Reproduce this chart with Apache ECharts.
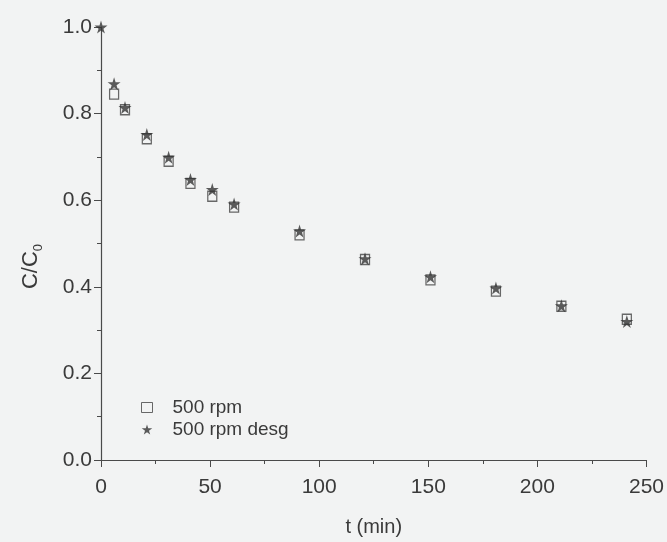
<!DOCTYPE html>
<html>
<head>
<meta charset="utf-8">
<script src="https://cdn.jsdelivr.net/npm/echarts@6/dist/echarts.min.js"></script>
<style>
html,body{margin:0;padding:0;background:#f2f3f3;}
#c{width:667px;height:542px;}
</style>
</head>
<body>
<div id="c"></div>
<script>
// Data
var timeSquare = [6, 11, 21, 31, 41, 51, 61, 91, 121, 151, 181, 211, 241];
var rpm500 = [0.845, 0.809, 0.742, 0.690, 0.639, 0.609, 0.584, 0.520, 0.463, 0.416, 0.390, 0.355, 0.325];
var timeStar = [0, 6, 11, 21, 31, 41, 51, 61, 91, 121, 151, 181, 211, 241];
var rpm500Desg = [1.0, 0.869, 0.814, 0.752, 0.699, 0.648, 0.625, 0.591, 0.529, 0.465, 0.423, 0.397, 0.356, 0.320];
var seriesNames = ['500 rpm', '500 rpm desg'];
var xTicks = [0, 50, 100, 150, 200, 250];
var yTicks = [0.0, 0.2, 0.4, 0.6, 0.8, 1.0];

var starPath = 'path://M50,0 L61,35 L98,35 L68,57 L79,91 L50,70 L21,91 L32,57 L2,35 L39,35 Z';
var axisColor = '#4a4a4a';
var textColor = '#3a3a3a';
var font = 'Liberation Sans, Arial, sans-serif';

function pairs(xs, ys) { return xs.map(function (x, i) { return [x, ys[i]]; }); }

var chart = echarts.init(document.getElementById('c'), null, {renderer: 'canvas'});
chart.setOption({
  backgroundColor: '#f2f3f3',
  animation: false,
  grid: {left: 101, right: 19, top: 27, bottom: 80, containLabel: false},
  legend: {
    orient: 'vertical',
    left: 136,
    top: 393,
    itemGap: 3,
    itemWidth: 11,
    itemHeight: 10,
    textStyle: {fontFamily: font, fontSize: 19, color: textColor, padding: [0, 0, 0, 15]},
    data: [
      {name: seriesNames[0], icon: 'rect', itemStyle: {color: 'transparent', borderColor: '#444', borderWidth: 1}},
      {name: seriesNames[1], icon: starPath, itemStyle: {color: '#333'}}
    ]
  },
  xAxis: {
    type: 'value', min: xTicks[0], max: xTicks[xTicks.length - 1], interval: 50,
    name: 't (min)', nameLocation: 'middle', nameGap: 57,
    nameTextStyle: {fontFamily: font, fontSize: 20, color: textColor},
    axisLine: {onZero: false, lineStyle: {color: axisColor, width: 1.2}},
    axisTick: {show: true, inside: false, length: 7, lineStyle: {color: axisColor}},
    minorTick: {show: true, splitNumber: 2, length: 4, lineStyle: {color: axisColor}},
    axisLabel: {fontFamily: font, fontSize: 21, color: textColor, margin: 17},
    splitLine: {show: false}
  },
  yAxis: {
    type: 'value', min: yTicks[0], max: yTicks[yTicks.length - 1], interval: 0.2,
    name: '{a|C/C}{b|0}', nameLocation: 'middle', nameGap: 56, nameRotate: 90,
    nameTextStyle: {
      padding: [0, 46, 0, 0],
      rich: {
        a: {fontFamily: font, fontSize: 22, color: textColor},
        b: {fontFamily: font, fontSize: 13, color: textColor, padding: [15, 0, 0, 0]}
      }
    },
    axisLine: {onZero: false, lineStyle: {color: axisColor, width: 1.2}},
    axisTick: {show: true, inside: false, length: 7, lineStyle: {color: axisColor}},
    minorTick: {show: true, splitNumber: 2, length: 4, lineStyle: {color: axisColor}},
    axisLabel: {fontFamily: font, fontSize: 21, color: textColor, margin: 9,
      formatter: function (v) { return v.toFixed(1); }},
    splitLine: {show: false}
  },
  series: [
    {
      name: seriesNames[0], type: 'scatter', clip: false,
      symbol: 'rect', symbolSize: [9, 10],
      itemStyle: {color: 'rgba(0,0,0,0)', borderColor: '#444', borderWidth: 1.3},
      data: pairs(timeSquare, rpm500)
    },
    {
      name: seriesNames[1], type: 'scatter', clip: false,
      symbol: starPath, symbolSize: 13,
      itemStyle: {color: '#333'},
      data: pairs(timeStar, rpm500Desg)
    }
  ]
});
</script>
</body>
</html>
